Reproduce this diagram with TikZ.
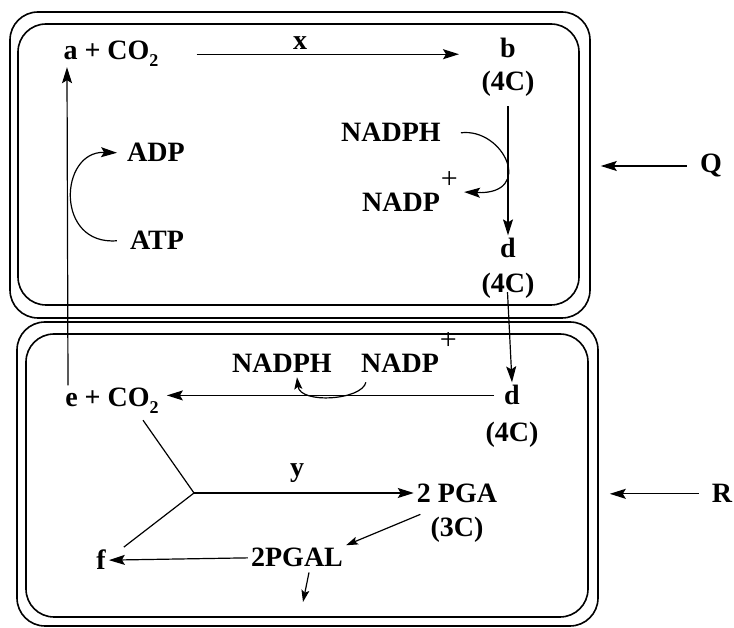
\documentclass[tikz,border=0pt]{standalone}
\usepackage{fontspec}
\setmainfont{Liberation Serif}
\usetikzlibrary{arrows.meta}

\newcommand{\subtwo}{\raisebox{-7pt}{\fontsize{18}{18}\selectfont 2}}
\newcommand{\plustop}{\rlap{\kern1pt\raisebox{23pt}{\fontsize{30}{30}\selectfont\mdseries +}}}

\begin{document}
\begin{tikzpicture}[x=1pt, y=1pt,
  >={Stealth[length=16pt, width=10pt, inset=3pt]},
  lbl/.style={font=\fontsize{28}{33}\selectfont\bfseries, inner sep=3pt, anchor=base},
  cell/.style={draw, line width=1.6pt, rounded corners=28pt, inner sep=0pt},
  arr/.style={->, line width=1.2pt},
  sarr/.style={->, line width=1.2pt, >={Stealth[length=12pt, width=8pt, inset=2.5pt]}}]

  \useasboundingbox (0,0) rectangle (734,628);

  % Mesophyll (Q) and bundle sheath (R) cells
  \node[cell, minimum width=580, minimum height=306] (topout) at (300,463) {};
  \node[cell, minimum width=561, minimum height=281] (topin) at (298.5,463.5) {};
  \node[cell, minimum width=581, minimum height=304] (botout) at (307.5,154) {};
  \node[cell, minimum width=562, minimum height=283] (botin) at (307,152.5) {};

  % Upper cell labels
  \node[lbl] (a) at (111,568) {a + CO\subtwo};
  \node[lbl] (xlab) at (300,578) {x};
  \node[lbl] (b) at (508,570) {b};
  \node[lbl] (bc) at (508,537) {(4C)};
  \node[lbl] (nadph1) at (391,486) {NADPH};
  \node[lbl] (nadp1) at (401,416) {NADP\plustop};
  \node[lbl] (adp) at (156,466) {ADP};
  \node[lbl] (atp) at (157,378) {ATP};
  \node[lbl] (d1) at (508,370) {d};
  \node[lbl] (d1c) at (508,335) {(4C)};
  \node[lbl] (q) at (711,455) {Q};

  % Lower cell labels
  \node[lbl] (e) at (112,221) {e + CO\subtwo};
  \node[lbl] (nadph2) at (282,255) {NADPH};
  \node[lbl] (nadp2) at (400,255) {NADP\plustop};
  \node[lbl] (d2) at (512,223) {d};
  \node[lbl] (d2c) at (512,186) {(4C)};
  \node[lbl] (ylab) at (297,151) {y};
  \node[lbl] (pga) at (457,125) {2 PGA};
  \node[lbl] (pgac) at (457,91) {(3C)};
  \node[lbl] (pgal) at (297,61) {2PGAL};
  \node[lbl] (f) at (101,58) {f};
  \node[lbl] (r) at (722,125) {R};

  \coordinate (jn) at (194,135);
  \coordinate (out) at (303,26);

  % Upper cell arrows
  \draw[arr, shorten <=35pt, shorten >=38pt] (a.east) -- (a.east -| b.west);
  \draw[arr, shorten <=6pt] (bc.south) -- (d1.north);
  \draw[arr] ([xshift=17pt]nadph1.east) .. controls +(43,5) and +(71,-3) .. ([xshift=21pt]nadp1.east);
  \draw[arr] ([xshift=-10pt]atp.west) .. controls +(-62,-5) and +(-58,2) .. ([xshift=-7pt]adp.west);
  \draw[arr, shorten >=-3pt] ([xshift=-44pt]e.north) -- ([xshift=-44pt]a.south);
  \draw[arr, shorten <=10pt, shorten >=10pt] (q.west) -- (q.west -| topout.east);

  % Lower cell arrows
  \draw[arr, shorten <=-10pt] (d1c.south) -- (d2.north);
  \draw[arr, shorten <=7pt, shorten >=5pt] (d2.west) -- (d2.west -| e.east);
  \draw[sarr] ([xshift=8pt,yshift=-6pt]nadp2.south west) .. controls +(-4,-18) and +(3,-27) .. ([xshift=15pt,yshift=-1pt]nadph2.south);
  \draw[line width=1.2pt] ([xshift=31pt,yshift=-3pt]e.south) -- (jn) -- ([xshift=15pt]f.north east);
  \draw[arr] (jn) -- (jn -| pga.west);
  \draw[sarr] ([xshift=-7pt]pgac.north west) -- (pgal.north east);
  \draw[arr] (pgal.west) -- (f.east);
  \draw[sarr] ([xshift=12pt,yshift=-2pt]pgal.south) -- (out);
  \draw[arr, shorten <=10pt, shorten >=11pt] (r.west) -- (r.west -| botout.east);

\end{tikzpicture}
\end{document}
